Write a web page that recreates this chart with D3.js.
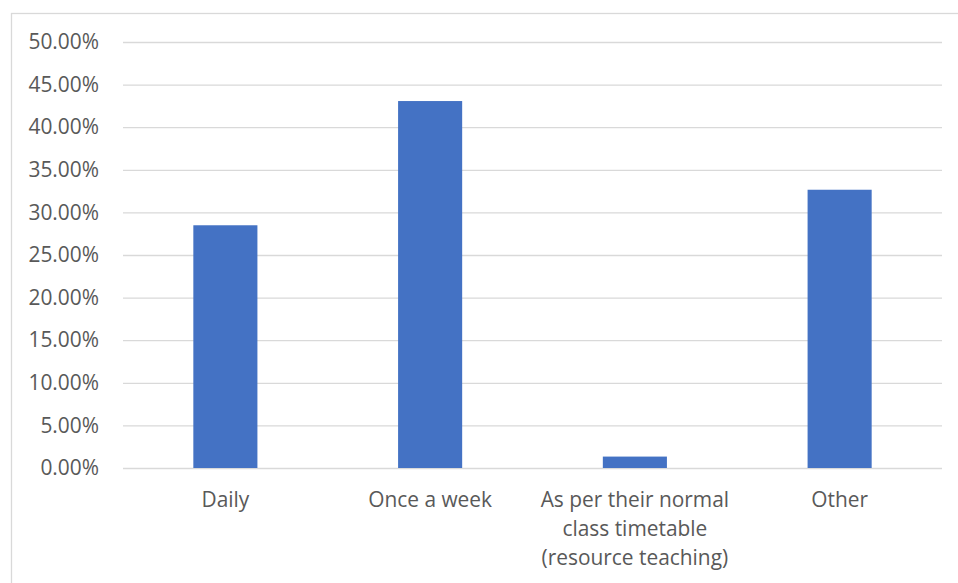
<!DOCTYPE html>
<html><head><meta charset="utf-8">
<script src="https://cdn.jsdelivr.net/npm/d3@7"></script>
<style>
html,body{margin:0;padding:0;background:#fff;}
svg{display:block;}
text{font-family:"Open Sans",sans-serif;fill:#595959;}
</style></head>
<body>
<svg id="chart" width="958" height="583"></svg>
<script>
const categories = [
  ["Daily"],
  ["Once a week"],
  ["As per their normal", "class timetable", "(resource teaching)"],
  ["Other"]
];
const values = [0.2849, 0.4307, 0.0134, 0.3266];
const tickValues = [0, 0.05, 0.10, 0.15, 0.20, 0.25, 0.30, 0.35, 0.40, 0.45, 0.50];

(function () {
const svg = d3.select("#chart");
const pLeft = 123, pRight = 942, pTop = 42, pBottom = 468;
const fs = 20.9;

svg.append("rect").attr("x", 11.5).attr("y", 13.5).attr("width", 960).attr("height", 600)
  .attr("fill", "#fff").attr("stroke", "#d9d9d9").attr("stroke-width", 1.3);

const keys = categories.map((c, i) => i);
const x = d3.scaleBand().domain(keys).range([pLeft, pRight]).paddingInner(0.687).paddingOuter(0.3435);
const y = d3.scaleLinear().domain([0, 0.5]).range([pBottom, pTop]);

const yAxis = d3.axisLeft(y).tickValues(tickValues).tickFormat(d => (d * 100).toFixed(2) + "%")
  .tickSize(-(pRight - pLeft)).tickPadding(24);
const gy = svg.append("g").attr("transform", `translate(${pLeft},0)`).call(yAxis);
gy.select(".domain").remove();
gy.selectAll(".tick line").attr("stroke", "#d9d9d9").attr("stroke-width", 1.3);
gy.selectAll(".tick text").attr("font-size", fs).attr("fill", "#595959")
  .attr("font-family", "Open Sans, sans-serif");

svg.append("g").selectAll("rect").data(values).join("rect")
  .attr("x", (d, i) => x(i))
  .attr("y", d => y(d))
  .attr("width", x.bandwidth())
  .attr("height", d => y(0) - y(d))
  .attr("fill", "#4472c4");

const lab = svg.append("g");
categories.forEach((lines, i) => {
  const cx = x(i) + x.bandwidth() / 2;
  const t = lab.append("text").attr("text-anchor", "middle")
    .attr("font-size", fs)
    .attr("x", cx).attr("y", 507);
  lines.forEach((s, j) => {
    t.append("tspan").attr("x", cx).attr("dy", j === 0 ? 0 : 29).text(s);
  });
});
})();
</script>
</body></html>
